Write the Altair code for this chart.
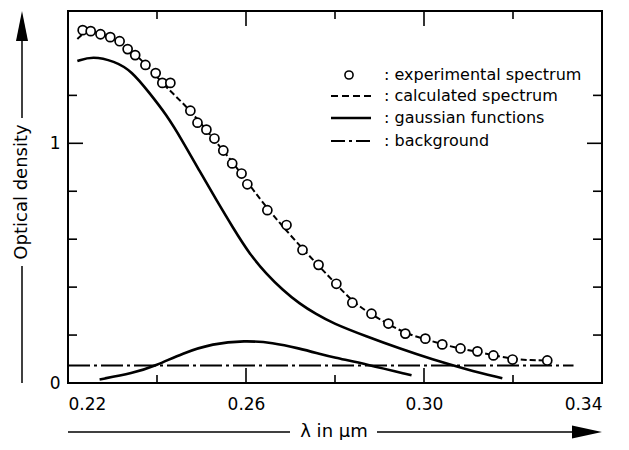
import altair as alt
import pandas as pd

# ---- data ----
exp_x = [0.2233, 0.2251, 0.2273, 0.2295, 0.2316, 0.2334, 0.2351, 0.2374, 0.2397, 0.2412,
         0.2430, 0.2475, 0.2491, 0.2511, 0.2529, 0.2549, 0.2569, 0.2590, 0.2603, 0.2648,
         0.2691, 0.2727, 0.2763, 0.2803, 0.2839, 0.2882, 0.2920, 0.2958, 0.3003, 0.3041,
         0.3082, 0.3120, 0.3156, 0.3199, 0.3277]
exp_y = [1.472, 1.468, 1.455, 1.443, 1.426, 1.393, 1.368, 1.327, 1.293, 1.252,
         1.252, 1.136, 1.086, 1.057, 1.020, 0.970, 0.916, 0.874, 0.829, 0.721,
         0.659, 0.555, 0.493, 0.414, 0.335, 0.289, 0.248, 0.206, 0.185, 0.161,
         0.144, 0.132, 0.115, 0.098, 0.094]

calc_x = [0.2221, 0.2240, 0.2260, 0.2290, 0.2320, 0.2350, 0.2380, 0.2410, 0.2440, 0.2475,
          0.2510, 0.2550, 0.2590, 0.2630, 0.2670, 0.2710, 0.2760, 0.2800, 0.2840, 0.2880,
          0.2920, 0.2960, 0.3000, 0.3040, 0.3080, 0.3120, 0.3160, 0.3200, 0.3240, 0.3277]
calc_y = [1.435, 1.470, 1.466, 1.447, 1.420, 1.375, 1.318, 1.255, 1.200, 1.136,
          1.057, 0.968, 0.872, 0.770, 0.680, 0.595, 0.495, 0.418, 0.338, 0.288,
          0.245, 0.206, 0.184, 0.162, 0.144, 0.130, 0.114, 0.100, 0.095, 0.094]

g1_x = [0.2221, 0.2255, 0.2304, 0.2343, 0.2383, 0.2421, 0.2457, 0.2495, 0.2534, 0.2570,
        0.2608, 0.2646, 0.2682, 0.2720, 0.2758, 0.2794, 0.2871, 0.2945, 0.3019, 0.3095,
        0.3176]
g1_y = [1.343, 1.364, 1.343, 1.302, 1.210, 1.120, 1.011, 0.886, 0.762, 0.650,
        0.538, 0.455, 0.389, 0.331, 0.287, 0.250, 0.194, 0.144, 0.098, 0.057,
        0.020]

g2_x = [0.2271, 0.2345, 0.2399, 0.2457, 0.2525, 0.2597, 0.2660, 0.2720, 0.2765, 0.2794,
        0.2871, 0.2972]
g2_y = [0.015, 0.040, 0.073, 0.124, 0.165, 0.177, 0.169, 0.144, 0.122, 0.108,
        0.078, 0.032]

bg_x = [0.2200, 0.3336]
bg_y = [0.073, 0.073]

x_major = [0.22, 0.26, 0.30, 0.34]
x_minor = [0.24, 0.28, 0.32]
y_major = [0, 1]
y_minor = [0.2, 0.4, 0.6, 0.8, 1.2]

legend_labels = [": experimental spectrum", ": calculated spectrum",
                 ": gaussian functions", ": background"]
x_title = "λ  in µm"
y_title = "Optical density"

FONT = "DejaVu Sans"
W, H = 534, 372

xs = alt.Scale(domain=[0.22, 0.34], nice=False, zero=False)
ys = alt.Scale(domain=[0, 1.552], nice=False, zero=False)
x_axis = alt.Axis(values=x_major, format=".2f", tickSize=0, domain=False, grid=False,
                  labelPadding=13, labelFontSize=17, labelFont=FONT, labelColor="black",
                  title=None)
y_axis = alt.Axis(values=y_major, format="d", tickSize=0, domain=False, grid=False,
                  labelPadding=8, labelFontSize=17, labelFont=FONT, labelColor="black",
                  title=None)


def X(f="x"):
    return alt.X(f + ":Q", scale=xs, axis=x_axis)


def Y(f="y"):
    return alt.Y(f + ":Q", scale=ys, axis=y_axis)


exp_df = pd.DataFrame({"x": exp_x, "y": exp_y})
calc_df = pd.DataFrame({"x": calc_x, "y": calc_y})
g1_df = pd.DataFrame({"x": g1_x, "y": g1_y})
g2_df = pd.DataFrame({"x": g2_x, "y": g2_y})
bg_df = pd.DataFrame({"x": bg_x, "y": bg_y})
one = pd.DataFrame({"a": [0]})

layers = []
layers.append(alt.Chart(bg_df).mark_line(color="black", strokeWidth=2, strokeDash=[22, 4, 3, 4])
              .encode(x=X(), y=Y()))
for df in (g1_df, g2_df):
    layers.append(alt.Chart(df).mark_line(color="black", strokeWidth=2.6, interpolate="basis")
                  .encode(x=X(), y=Y()))
layers.append(alt.Chart(calc_df).mark_line(color="black", strokeWidth=2, strokeDash=[6, 3],
                                           interpolate="basis")
              .encode(x=X(), y=Y()))
layers.append(alt.Chart(exp_df).mark_point(shape="circle", size=82, filled=True, fill="white",
                                           stroke="black", strokeWidth=1.7, opacity=1)
              .encode(x=X(), y=Y()))

# inward ticks on all four sides
xmaj = pd.DataFrame({"v": x_major})
xmin = pd.DataFrame({"v": x_minor})
ymaj = pd.DataFrame({"v": y_major})
ymin = pd.DataFrame({"v": y_minor})
for df, L in ((xmaj, 15), (xmin, 8)):
    layers.append(alt.Chart(df).mark_rule(color="black", strokeWidth=1.6)
                  .encode(x=X("v"), y=alt.value(H), y2=alt.value(H - L)))
    layers.append(alt.Chart(df).mark_rule(color="black", strokeWidth=1.6)
                  .encode(x=X("v"), y=alt.value(0), y2=alt.value(L)))
for df, L in ((ymaj, 15), (ymin, 9)):
    layers.append(alt.Chart(df).mark_rule(color="black", strokeWidth=1.6)
                  .encode(y=Y("v"), x=alt.value(0), x2=alt.value(L)))
    layers.append(alt.Chart(df).mark_rule(color="black", strokeWidth=1.6)
                  .encode(y=Y("v"), x=alt.value(W), x2=alt.value(W - L)))

# legend
ly = [64, 85, 107, 130]
lx0, lx1, tx = 263, 303, 316
layers.append(alt.Chart(one).mark_point(shape="circle", size=66, filled=True, fill="white",
                                        stroke="black", strokeWidth=1.6, opacity=1)
              .encode(x=alt.value(281), y=alt.value(ly[0])))
layers.append(alt.Chart(one).mark_rule(color="black", strokeWidth=2, strokeDash=[7, 4])
              .encode(x=alt.value(lx0), x2=alt.value(lx1), y=alt.value(ly[1])))
layers.append(alt.Chart(one).mark_rule(color="black", strokeWidth=2.4)
              .encode(x=alt.value(lx0), x2=alt.value(lx1), y=alt.value(ly[2])))
layers.append(alt.Chart(one).mark_rule(color="black", strokeWidth=2, strokeDash=[14, 4, 3, 4])
              .encode(x=alt.value(lx0), x2=alt.value(lx1 + 3), y=alt.value(ly[3])))
for lab, yy in zip(legend_labels, ly):
    layers.append(alt.Chart(one).mark_text(align="left", baseline="middle", font=FONT,
                                           fontSize=16, color="black")
                  .encode(x=alt.value(tx), y=alt.value(yy), text=alt.value(lab)))

# y title with arrow
yx = -46
layers.append(alt.Chart(one).mark_text(angle=270, align="center", baseline="middle",
                                       font=FONT, fontSize=18, color="black")
              .encode(x=alt.value(yx), y=alt.value(181), text=alt.value(y_title)))
layers.append(alt.Chart(one).mark_rule(color="black", strokeWidth=1.5)
              .encode(x=alt.value(yx), y=alt.value(28), y2=alt.value(107)))
layers.append(alt.Chart(one).mark_rule(color="black", strokeWidth=1.5)
              .encode(x=alt.value(yx), y=alt.value(255), y2=alt.value(H)))
layers.append(alt.Chart(one).mark_point(shape="M-0.4,1L0,-1L0.4,1Z", size=900, filled=True,
                                        color="black", opacity=1)
              .encode(x=alt.value(yx), y=alt.value(15)))

# x title with arrow
xy = H + 49
layers.append(alt.Chart(one).mark_text(align="center", baseline="middle", font=FONT,
                                       fontSize=18, color="black")
              .encode(x=alt.value(266), y=alt.value(xy), text=alt.value(x_title)))
layers.append(alt.Chart(one).mark_rule(color="black", strokeWidth=1.5)
              .encode(x=alt.value(0), x2=alt.value(222), y=alt.value(xy)))
layers.append(alt.Chart(one).mark_rule(color="black", strokeWidth=1.5)
              .encode(x=alt.value(309), x2=alt.value(510), y=alt.value(xy)))
layers.append(alt.Chart(one).mark_point(shape="M-1,-0.43L1,0L-1,0.43Z", size=900, filled=True,
                                        color="black", opacity=1)
              .encode(x=alt.value(519), y=alt.value(xy)))

chart = (alt.layer(*layers)
         .properties(width=W, height=H,
                     autosize=alt.AutoSizeParams(type="none"),
                     padding={"left": 60, "top": 3, "right": 12, "bottom": 57},
                     background="white")
         .configure_view(stroke="black", strokeWidth=2)
         .configure_axis(labelFont=FONT, labelColor="black"))

chart.save("out.html", embed_options={"renderer": "svg", "actions": False})
